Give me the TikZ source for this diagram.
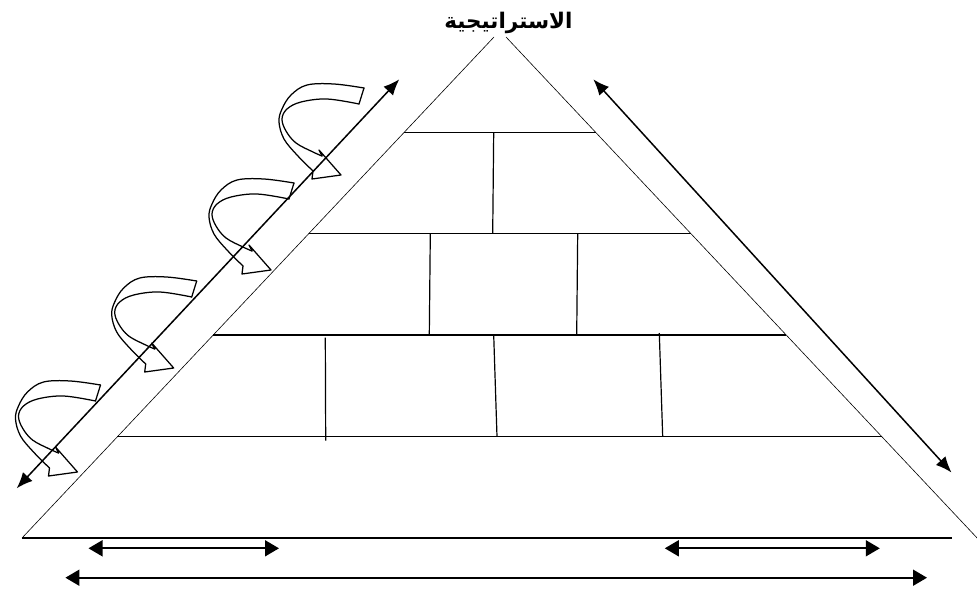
\documentclass[tikz,border=0pt]{standalone}
\usepackage{fontspec}
\newfontfamily\arabicfont[Script=Arabic]{DejaVu Sans}
\TeXXeTstate=1
\usetikzlibrary{arrows.meta,calc}
\tikzset{
  rib/.style={line width=1.25pt, line join=round, line cap=round},
  ribbon/.pic={
    \draw[rib] plot[smooth,tension=.6] coordinates {(0,0) (-30,-4) (-57,-3) (-73,7) (-82,21) (-85,34) (-80,51) (-67,67) (-51,83)};
    \draw[rib] plot[smooth,tension=.6] coordinates {(-5,16) (-37,11) (-63,14) (-77,21) (-82,31) (-78,43) (-68,55) (-51,64) (-42,68)};
    \draw[rib] (0,0) -- (-5,16);
    \draw[rib] (-51,83) -- (-52,91) -- (-23,87) -- (-45,62) -- (-42,68);
  }
}
\begin{document}
\begin{tikzpicture}[x=1pt,y=-1pt,
  edge/.style={line width=0.6pt},
  tier/.style={line width=1.1pt},
  brick/.style={line width=1.2pt},
  darrow/.style={line width=1.5pt, {Latex[length=16pt,width=13pt]}-{Latex[length=16pt,width=13pt]}},
  harrow/.style={line width=1.7pt, {Triangle[length=14pt,width=16pt]}-{Triangle[length=14pt,width=16pt]}}]
\useasboundingbox (0,0) rectangle (977,595);
% pyramid edges
\coordinate (AL) at (494,37);
\coordinate (BL) at (22,538);
\coordinate (AR) at (506,37);
\coordinate (BR) at (979,540);
\coordinate (BE) at (952,538);
\draw[edge] (AL) -- (BL);
\draw[edge] (AR) -- (BR);
\draw[tier] (BL) -- (BE);
% tiers
\foreach \yy in {132.3,233.7,335,436.7}{
  \draw[tier] (intersection of AL--BL and 0,\yy--10,\yy) -- (intersection of AR--BR and 0,\yy--10,\yy);
}
% bricks
\draw[brick] (493.7,132.3) -- (492.7,233.7);
\draw[brick] (430.3,233.7) -- (429.3,335);
\draw[brick] (577.7,233.7) -- (576.7,335);
\draw[brick] (325.3,337.7) -- (325.7,440.7);
\draw[brick] (493.7,335) -- (497,436.7);
\draw[brick] (659.3,333) -- (662.7,436.7);
% ribbons
\pic at (100.5,385) {ribbon};
\pic at (196.7,281) {ribbon};
\pic at (294,183) {ribbon};
\pic at (364,88) {ribbon};
% diagonal arrows
\coordinate (la1) at (16.7,488.3);
\coordinate (la2) at (399.3,79.3);
\coordinate (ra1) at (593.3,79.3);
\coordinate (ra2) at (951.5,472.5);
\draw[darrow] (la1) -- (la2);
\draw[darrow] (ra1) -- (ra2);
% bottom arrows
\coordinate (b1a) at (88.5,548.3);
\coordinate (b1b) at (279,548.3);
\coordinate (b2a) at (664.8,548.3);
\coordinate (b2b) at (879.8,548.3);
\coordinate (b3a) at (65.4,577.7);
\coordinate (b3b) at (927,577.7);
\draw[harrow] (b1a) -- (b1b);
\draw[harrow] (b2a) -- (b2b);
\draw[harrow] (b3a) -- (b3b);
% title
\node[font=\arabicfont\bfseries\fontsize{21.5}{24}\selectfont, inner sep=0pt] (title) at (508.5,23) {\beginR الاستراتيجية\endR};
\end{tikzpicture}
\end{document}
